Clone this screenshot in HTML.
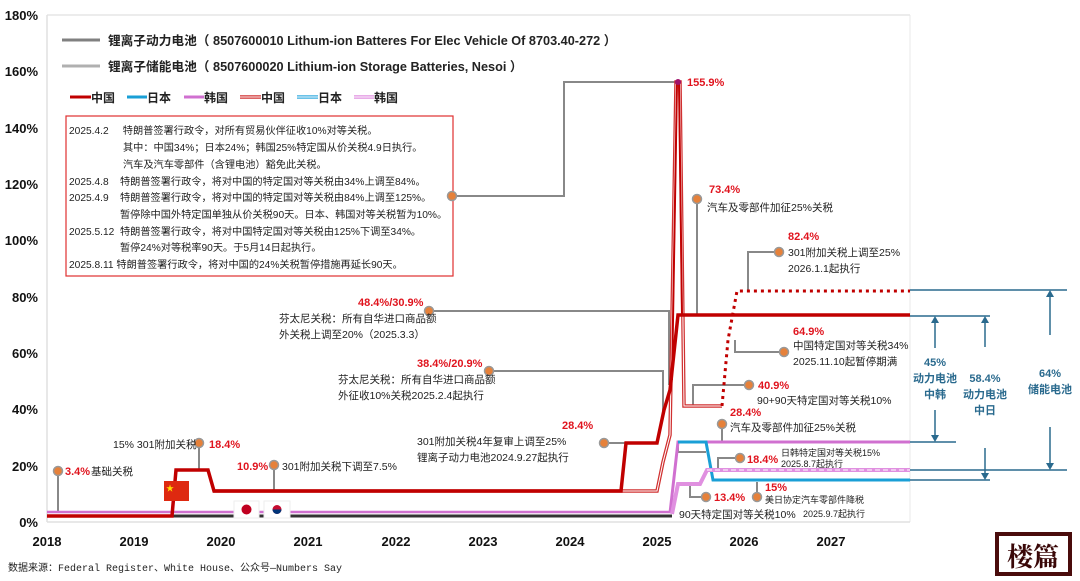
<!DOCTYPE html>
<html><head><meta charset="utf-8"><style>
body{margin:0;background:#fff;}
svg{display:block;font-family:"Liberation Sans","Noto Sans CJK SC",sans-serif;}
.ax{font-weight:bold;font-size:13px;fill:#111;}
.r{fill:#e0141e;font-weight:bold;font-size:11px;}
.t{fill:#222;font-size:10.5px;}
.b{fill:#2a6a8e;font-weight:bold;font-size:11px;}
.g{stroke:#888;stroke-width:2;fill:none;}
.dot{fill:#e6813a;stroke:#999;stroke-width:1.5;}
</style></head><body>
<svg width="1080" height="581" viewBox="0 0 1080 581">
<line x1="47" y1="15" x2="910" y2="15" stroke="#e6e6e6" stroke-width="1.5"/>
<line x1="47" y1="15" x2="47" y2="522" stroke="#e0e0e0" stroke-width="1.5"/>
<line x1="910" y1="15" x2="910" y2="522" stroke="#e8e8e8" stroke-width="1"/>
<line x1="47" y1="522" x2="910" y2="522" stroke="#e0e0e0" stroke-width="1.5"/>
<g class="ax" text-anchor="end">
<text x="38" y="20">180%</text><text x="38" y="76">160%</text><text x="38" y="133">140%</text><text x="38" y="189">120%</text><text x="38" y="245">100%</text><text x="38" y="302">80%</text><text x="38" y="358">60%</text><text x="38" y="414">40%</text><text x="38" y="471">20%</text><text x="38" y="527">0%</text>
</g>
<g class="ax" text-anchor="middle">
<text x="47" y="546">2018</text><text x="134" y="546">2019</text><text x="221" y="546">2020</text><text x="308" y="546">2021</text><text x="396" y="546">2022</text><text x="483" y="546">2023</text><text x="570" y="546">2024</text><text x="657" y="546">2025</text><text x="744" y="546">2026</text><text x="831" y="546">2027</text>
</g>
<text x="8" y="571" style="font-family:'Liberation Mono','Noto Sans CJK SC',monospace;font-size:10px;fill:#222">数据来源：Federal Register、White House、公众号—Numbers Say</text>

<line x1="62" y1="40" x2="100" y2="40" stroke="#808080" stroke-width="3"/>
<text x="108" y="45" style="font-weight:bold;font-size:12.7px;fill:#222">锂离子动力电池（ 8507600010 Lithum-ion Batteres For Elec Vehicle Of 8703.40-272 ）</text>
<line x1="62" y1="66" x2="100" y2="66" stroke="#b0b0b0" stroke-width="3"/>
<text x="108" y="71" style="font-weight:bold;font-size:12.7px;fill:#222">锂离子储能电池（ 8507600020 Lithium-ion Storage Batteries, Nesoi ）</text>
<g style="font-weight:bold;font-size:12px;fill:#222">
<line x1="70" y1="97" x2="91" y2="97" stroke="#c00000" stroke-width="3"/><text x="91" y="102">中国</text>
<line x1="127" y1="97" x2="147" y2="97" stroke="#1a9fd6" stroke-width="3"/><text x="147" y="102">日本</text>
<line x1="184" y1="97" x2="204" y2="97" stroke="#d070d0" stroke-width="3"/><text x="204" y="102">韩国</text>
<line x1="240" y1="97" x2="261" y2="97" stroke="#d03030" stroke-width="3.5"/><line x1="240" y1="97" x2="261" y2="97" stroke="#fff" stroke-width="1"/><text x="261" y="102">中国</text>
<line x1="297" y1="97" x2="318" y2="97" stroke="#3aaee0" stroke-width="3.5"/><line x1="297" y1="97" x2="318" y2="97" stroke="#fff" stroke-width="1"/><text x="318" y="102">日本</text>
<line x1="354" y1="97" x2="374" y2="97" stroke="#e090e0" stroke-width="3.5"/><line x1="354" y1="97" x2="374" y2="97" stroke="#fff" stroke-width="1"/><text x="374" y="102">韩国</text>
</g>
<rect x="66" y="116" width="387" height="160" fill="#fff" stroke="#e03030" stroke-width="1.2"/>
<g class="t" style="font-size:10.2px">
<text x="69" y="134">2025.4.2&#160;&#160;&#160;&#160;&#160;特朗普签署行政令，对所有贸易伙伴征收10%对等关税。</text>
<text x="123" y="151">其中：中国34%；日本24%；韩国25%特定国从价关税4.9日执行。</text>
<text x="123" y="168">汽车及汽车零部件（含锂电池）豁免此关税。</text>
<text x="69" y="185">2025.4.8&#160;&#160;&#160;&#160;特朗普签署行政令，将对中国的特定国对等关税由34%上调至84%。</text>
<text x="69" y="201">2025.4.9&#160;&#160;&#160;&#160;特朗普签署行政令，将对中国的特定国对等关税由84%上调至125%。</text>
<text x="120" y="218">暂停除中国外特定国单独从价关税90天。日本、韩国对等关税暂为10%。</text>
<text x="69" y="235">2025.5.12&#160;&#160;特朗普签署行政令，将对中国特定国对等关税由125%下调至34%。</text>
<text x="120" y="251">暂停24%对等税率90天。于5月14日起执行。</text>
<text x="69" y="268">2025.8.11 特朗普签署行政令，将对中国的24%关税暂停措施再延长90天。</text>
</g>

<polyline class="g" points="452,196 564,196 564,82 678,82"/>
<line class="g" x1="58" y1="471" x2="58" y2="513"/>
<line class="g" x1="199" y1="443" x2="199" y2="470"/>
<line class="g" x1="274" y1="465" x2="274" y2="491"/>
<polyline class="g" points="429,311 669,311 669,385"/>
<polyline class="g" points="489,371 663,371 663,414"/>
<polyline class="g" points="604,443 627,443"/>
<line class="g" x1="697" y1="199" x2="697" y2="315"/>
<polyline class="g" points="779,252 748,252 748,290"/>
<polyline class="g" points="784,352 735,352 735,340"/>
<polyline class="g" points="749,385 693,385 693,406"/>
<line class="g" x1="722" y1="424" x2="722" y2="442"/>
<polyline class="g" points="740,458 718,458 718,470"/>
<polyline class="g" points="706,497 690,497 690,484"/>
<line class="g" x1="757" y1="497" x2="757" y2="482"/>
<polyline class="g" points="678,442 678,452 706,452" stroke-width="1.5"/>

<line x1="47" y1="516" x2="672" y2="516" stroke="#333" stroke-width="3"/>
<line x1="47" y1="512" x2="672" y2="512" stroke="#d070d0" stroke-width="2.5"/>

<polyline points="670,513 678,442 910,442" fill="none" stroke="#d070d0" stroke-width="3"/>
<polyline points="678,442 706,442 713,480 910,480" fill="none" stroke="#1a9fd6" stroke-width="3"/>
<polyline points="672,514 678,484 700,484 707,470 910,470" fill="none" stroke="#e090e0" stroke-width="4"/>
<polyline points="707,470 910,470" fill="none" stroke="#fff" stroke-width="1" stroke-dasharray="5,3"/>

<polyline points="213,491 657,491 663,462 670,435 676,82 680,82 684,406 722,406" fill="none" stroke="#d03030" stroke-width="3.5"/>
<polyline points="213,491 657,491 663,462 670,435 676,82 680,82 684,406 722,406" fill="none" stroke="#fff" stroke-width="1"/>
<polyline points="722,406 728,340 737,291 910,291" fill="none" stroke="#c00000" stroke-width="3" stroke-dasharray="3,4"/>
<polyline points="672,380 677,82 679,82 682,315" fill="none" stroke="#c00000" stroke-width="2"/>
<polyline points="47,516 172,516 176,470 208,470 214,491 621,491 626,443 657,443 664,410 670,390 678,315 910,315" fill="none" stroke="#c00000" stroke-width="3.5"/>

<rect x="164" y="481" width="25" height="20" fill="#de2910"/>
<text x="166" y="491" style="font-size:8px;fill:#ffde00">★</text>
<rect x="234" y="501" width="25" height="17" fill="#fff" stroke="#eee"/>
<circle cx="246.5" cy="509.5" r="5" fill="#c00020"/>
<rect x="264" y="501" width="26" height="17" fill="#fff" stroke="#eee"/>
<circle cx="277" cy="509.5" r="4.5" fill="#c60c30"/>
<path d="M272.5,509.5 a4.5,4.5 0 0,0 9,0 z" fill="#003478"/>

<g class="dot">
<circle cx="58" cy="471" r="4.5"/><circle cx="199" cy="443" r="4.5"/><circle cx="274" cy="465" r="4.5"/>
<circle cx="429" cy="311" r="4.5"/><circle cx="489" cy="371" r="4.5"/><circle cx="604" cy="443" r="4.5"/>
<circle cx="452" cy="196" r="4.5"/><circle cx="697" cy="199" r="4.5"/><circle cx="779" cy="252" r="4.5"/>
<circle cx="784" cy="352" r="4.5"/><circle cx="749" cy="385" r="4.5"/><circle cx="722" cy="424" r="4.5"/>
<circle cx="740" cy="458" r="4.5"/><circle cx="706" cy="497" r="4.5"/><circle cx="757" cy="497" r="4.5"/>
</g>
<circle cx="678" cy="82" r="3" fill="#a0106a"/>

<text class="r" x="65" y="475">3.4%</text><text class="t" x="91" y="475">基础关税</text>
<text class="t" x="113" y="448">15% 301附加关税</text><text class="r" x="209" y="448">18.4%</text>
<text class="r" x="237" y="470">10.9%</text><text class="t" x="282" y="470">301附加关税下调至7.5%</text>
<text class="r" x="358" y="306">48.4%/30.9%</text>
<text class="t" x="279" y="322">芬太尼关税：所有自华进口商品额</text><text class="t" x="279" y="338">外关税上调至20%（2025.3.3）</text>
<text class="r" x="417" y="367">38.4%/20.9%</text>
<text class="t" x="338" y="383">芬太尼关税：所有自华进口商品额</text><text class="t" x="338" y="399">外征收10%关税2025.2.4起执行</text>
<text class="r" x="562" y="429">28.4%</text>
<text class="t" x="417" y="445">301附加关税4年复审上调至25%</text><text class="t" x="417" y="461">锂离子动力电池2024.9.27起执行</text>
<text class="r" x="687" y="86">155.9%</text>
<text class="r" x="709" y="193">73.4%</text><text class="t" x="707" y="211">汽车及零部件加征25%关税</text>
<text class="r" x="788" y="240">82.4%</text><text class="t" x="788" y="256">301附加关税上调至25%</text><text class="t" x="788" y="272">2026.1.1起执行</text>
<text class="r" x="793" y="335">64.9%</text><text class="t" x="793" y="349">中国特定国对等关税34%</text><text class="t" x="793" y="365">2025.11.10起暂停期满</text>
<text class="r" x="758" y="389">40.9%</text><text class="t" x="757" y="404">90+90天特定国对等关税10%</text>
<text class="r" x="730" y="416">28.4%</text><text class="t" x="730" y="431">汽车及零部件加征25%关税</text>
<text class="r" x="747" y="463">18.4%</text>
<text class="t" x="781" y="456" style="font-size:9px">日韩特定国对等关税15%</text><text class="t" x="781" y="467" style="font-size:9px">2025.8.7起执行</text>
<text class="r" x="714" y="501">13.4%</text><text class="t" x="679" y="518">90天特定国对等关税10%</text>
<text class="r" x="765" y="491">15%</text>
<text class="t" x="765" y="503" style="font-size:9px">美日协定汽车零部件降税</text><text class="t" x="803" y="517" style="font-size:9px">2025.9.7起执行</text>

<g stroke="#2a6a8e" stroke-width="1.5" fill="none">
<line x1="910" y1="290" x2="1067" y2="290"/>
<line x1="910" y1="316" x2="990" y2="316"/>
<line x1="910" y1="442" x2="956" y2="442"/>
<line x1="910" y1="470" x2="1067" y2="470"/>
<line x1="910" y1="480" x2="990" y2="480"/>
<line x1="935" y1="348" x2="935" y2="320"/><line x1="935" y1="410" x2="935" y2="438"/>
<line x1="985" y1="347" x2="985" y2="320"/><line x1="985" y1="448" x2="985" y2="476"/>
<line x1="1050" y1="335" x2="1050" y2="294"/><line x1="1050" y1="427" x2="1050" y2="466"/>
</g>
<g fill="#2a6a8e">
<path d="M931,323 L935,316 L939,323Z"/><path d="M931,435 L935,442 L939,435Z"/>
<path d="M981,323 L985,316 L989,323Z"/><path d="M981,473 L985,480 L989,473Z"/>
<path d="M1046,297 L1050,290 L1054,297Z"/><path d="M1046,463 L1050,470 L1054,463Z"/>
</g>
<g class="b" text-anchor="middle">
<text x="935" y="366">45%</text><text x="935" y="382">动力电池</text><text x="935" y="398">中韩</text>
<text x="985" y="382">58.4%</text><text x="985" y="398">动力电池</text><text x="985" y="414">中日</text>
<text x="1050" y="377">64%</text><text x="1050" y="393">储能电池</text>
</g>

<rect x="995" y="532" width="77" height="44" fill="#4a0c0c"/>
<rect x="999" y="536" width="69" height="36" fill="#fff"/>
<text x="1033" y="566" text-anchor="middle" style="font-size:26px;font-weight:bold;fill:#3a0808;font-family:'Noto Serif CJK SC',serif">楼篇</text>
</svg>
</body></html>
